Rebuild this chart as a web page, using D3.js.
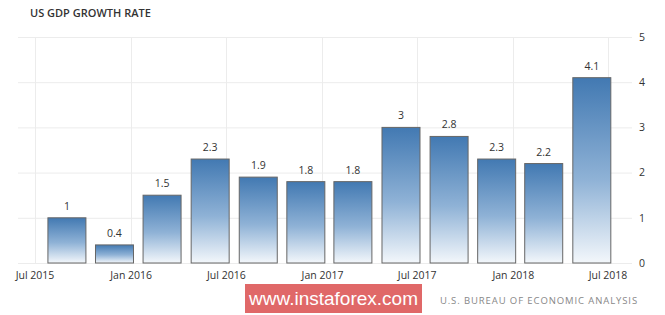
<!DOCTYPE html>
<html>
<head>
<meta charset="utf-8">
<script src="https://cdn.jsdelivr.net/npm/d3@7"></script>
<style>
  body { margin: 0; background: #fff; }
  svg { display: block; font-family: "Open Sans", sans-serif; }
</style>
</head>
<body>
<div id="chart"></div>
<script>
// quarters, plotted at the last month of each quarter
const quarters = ["2015-09-01", "2015-12-01", "2016-03-01", "2016-06-01",
  "2016-09-01", "2016-12-01", "2017-03-01", "2017-06-01",
  "2017-09-01", "2017-12-01", "2018-03-01", "2018-06-01"]
const growth = [1, 0.4, 1.5, 2.3, 1.9, 1.8, 1.8, 3, 2.8, 2.3, 2.2, 4.1]
const yTicks = [0, 1, 2, 3, 4, 5]
const xTickDates = ["2015-07-01", "2016-01-01", "2016-07-01", "2017-01-01",
  "2017-07-01", "2018-01-01", "2018-07-01"]

const width = 665, height = 315
const parse = d3.timeParse("%Y-%m-%d")
const data = quarters.map((q, i) => ({date: parse(q), value: growth[i]}))

const svg = d3.select("#chart").append("svg")
  .attr("width", width)
  .attr("height", height)

// gradient for the bars
const grad = svg.append("defs").append("linearGradient")
  .attr("id", "barGrad")
  .attr("x1", 0).attr("y1", 0).attr("x2", 0).attr("y2", 1)
grad.append("stop").attr("offset", "0%").attr("stop-color", "#4279b2")
grad.append("stop").attr("offset", "55%").attr("stop-color", "#8fb2d6")
grad.append("stop").attr("offset", "100%").attr("stop-color", "#f3f7fb")

const x = d3.scaleTime()
  .domain([parse(xTickDates[0]), parse(xTickDates[xTickDates.length - 1])])
  .range([34.5, 607.5])
const y = d3.scaleLinear()
  .domain([0, 5])
  .range([263, 37])

// title
svg.append("text")
  .attr("x", 30).attr("y", 17)
  .style("font-size", "11px")
  .style("font-weight", 600)
  .attr("fill", "#333")
  .text("US GDP GROWTH RATE")

// grid
svg.append("g")
  .selectAll("line")
  .data(yTicks)
  .join("line")
  .attr("x1", 18).attr("x2", 632)
  .attr("y1", d => y(d) + 0.5).attr("y2", d => y(d) + 0.5)
  .attr("stroke", "#ececec")

svg.append("g")
  .selectAll("line")
  .data(xTickDates.map(parse))
  .join("line")
  .attr("x1", d => Math.round(x(d)) + 0.5).attr("x2", d => Math.round(x(d)) + 0.5)
  .attr("y1", y(5)).attr("y2", y(0))
  .attr("stroke", "#ececec")

// x axis labels
const xAxis = svg.append("g")
  .attr("transform", `translate(0, ${y(0)})`)
  .call(d3.axisBottom(x)
    .tickValues(xTickDates.map(parse))
    .tickFormat(d3.timeFormat("%b %Y"))
    .tickSize(0)
    .tickPadding(9))
xAxis.select(".domain").remove()
xAxis.selectAll("text")
  .style("font-size", "10.5px")
  .style("font-family", "Open Sans, sans-serif")
  .attr("fill", "#333")

// y axis labels on the right
const yAxis = svg.append("g")
  .attr("transform", "translate(636, 0)")
  .call(d3.axisRight(y).tickValues(yTicks).tickFormat(d3.format("d"))
    .tickSize(0).tickPadding(3))
yAxis.select(".domain").remove()
yAxis.selectAll("text")
  .style("font-size", "10.5px")
  .style("font-family", "Open Sans, sans-serif")
  .attr("fill", "#333")

// bars
const barW = 38
svg.append("g")
  .selectAll("rect")
  .data(data)
  .join("rect")
  .attr("x", d => x(d.date) - barW / 2)
  .attr("y", d => y(d.value))
  .attr("width", barW)
  .attr("height", d => y(0) - y(d.value))
  .attr("fill", "url(#barGrad)")
  .attr("stroke", "#666")
  .attr("stroke-width", 1)

// value labels
svg.append("g")
  .selectAll("text")
  .data(data)
  .join("text")
  .attr("x", d => x(d.date))
  .attr("y", d => y(d.value) - 8)
  .attr("text-anchor", "middle")
  .style("font-size", "10.5px")
  .attr("fill", "#333")
  .text(d => d.value)

// watermark
svg.append("rect")
  .attr("x", 245).attr("y", 284)
  .attr("width", 177).attr("height", 29)
  .attr("fill", "#e06868")
svg.append("text")
  .attr("x", 333.5).attr("y", 305)
  .attr("text-anchor", "middle")
  .style("font-family", "Liberation Sans, Arial, sans-serif")
  .style("font-size", "19px")
  .attr("fill", "#fff")
  .text("www.instaforex.com")

// source
svg.append("text")
  .attr("x", 638).attr("y", 304)
  .attr("text-anchor", "end")
  .style("font-size", "9.5px")
  .style("letter-spacing", "0.9px")
  .attr("fill", "#888")
  .text("U.S. BUREAU OF ECONOMIC ANALYSIS")
</script>
</body>
</html>
